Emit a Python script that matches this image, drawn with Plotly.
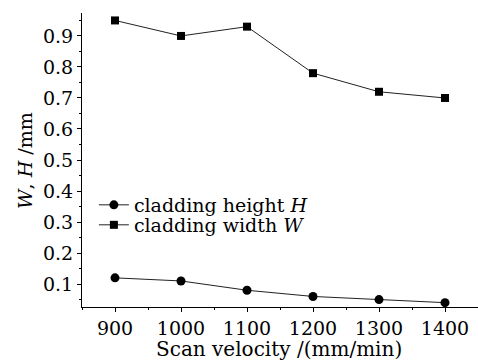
import plotly.graph_objects as go

velocity = [900, 1000, 1100, 1200, 1300, 1400]
height_H = [0.12, 0.11, 0.08, 0.06, 0.05, 0.04]
width_W = [0.95, 0.90, 0.93, 0.78, 0.72, 0.70]
y_ticks = [0.1, 0.2, 0.3, 0.4, 0.5, 0.6, 0.7, 0.8, 0.9]
x_ticks = [900, 1000, 1100, 1200, 1300, 1400]

FONT = "DejaVu Serif"
FS = 19

fig = go.Figure()
fig.add_trace(go.Scatter(
    x=velocity, y=height_H, mode="lines+markers",
    name="cladding height <i>H</i>", legend="legend",
    line=dict(color="#222", width=1),
    marker=dict(symbol="circle", size=9, color="black"),
))
fig.add_trace(go.Scatter(
    x=velocity, y=width_W, mode="lines+markers",
    name="cladding width <i>W</i>", legend="legend2",
    line=dict(color="#222", width=1),
    marker=dict(symbol="square", size=8, color="black"),
))

axis_common = dict(
    showgrid=False, zeroline=False, showline=True, linecolor="black", linewidth=1,
    ticks="outside", ticklen=4, tickcolor="black", tickwidth=1, automargin=False,
    tickfont=dict(family=FONT, size=FS, color="black"),
)
fig.update_xaxes(
    range=[850, 1450], tickvals=x_ticks,
    minor=dict(dtick=50, ticks="outside", ticklen=2, tickcolor="black"),
    **axis_common,
)
fig.update_yaxes(
    range=[0.026, 0.974], tickvals=y_ticks, ticktext=[f"{v:.1f}" for v in y_ticks],
    minor=dict(dtick=0.05, tick0=0, ticks="outside", ticklen=2, tickcolor="black"),
    **axis_common,
)
leg_common = dict(
    xanchor="left", yanchor="middle",
    font=dict(family=FONT, size=FS, color="black"),
    bgcolor="rgba(0,0,0,0)", itemwidth=30, borderwidth=0,
)
fig.update_layout(
    width=478, height=360,
    margin=dict(l=82, r=0, t=13, b=53),
    plot_bgcolor="white", paper_bgcolor="white",
    showlegend=True,
    legend=dict(x=0.03, y=0.347, **leg_common),
    legend2=dict(x=0.03, y=0.279, **leg_common),
    annotations=[
        dict(text="Scan velocity /(mm/min)", xref="paper", yref="paper",
             x=0.498, y=-0.142, xanchor="center", yanchor="middle", showarrow=False,
             font=dict(family=FONT, size=20, color="black")),
        dict(text="<i>W</i>, <i>H</i> /mm", xref="paper", yref="paper",
             x=-0.144, y=0.5, xanchor="center", yanchor="middle", showarrow=False,
             textangle=-90, font=dict(family=FONT, size=FS, color="black")),
    ],
)
fig.write_html("out.html", config={"displayModeBar": False},
               post_script="document.body.style.margin='0';")
